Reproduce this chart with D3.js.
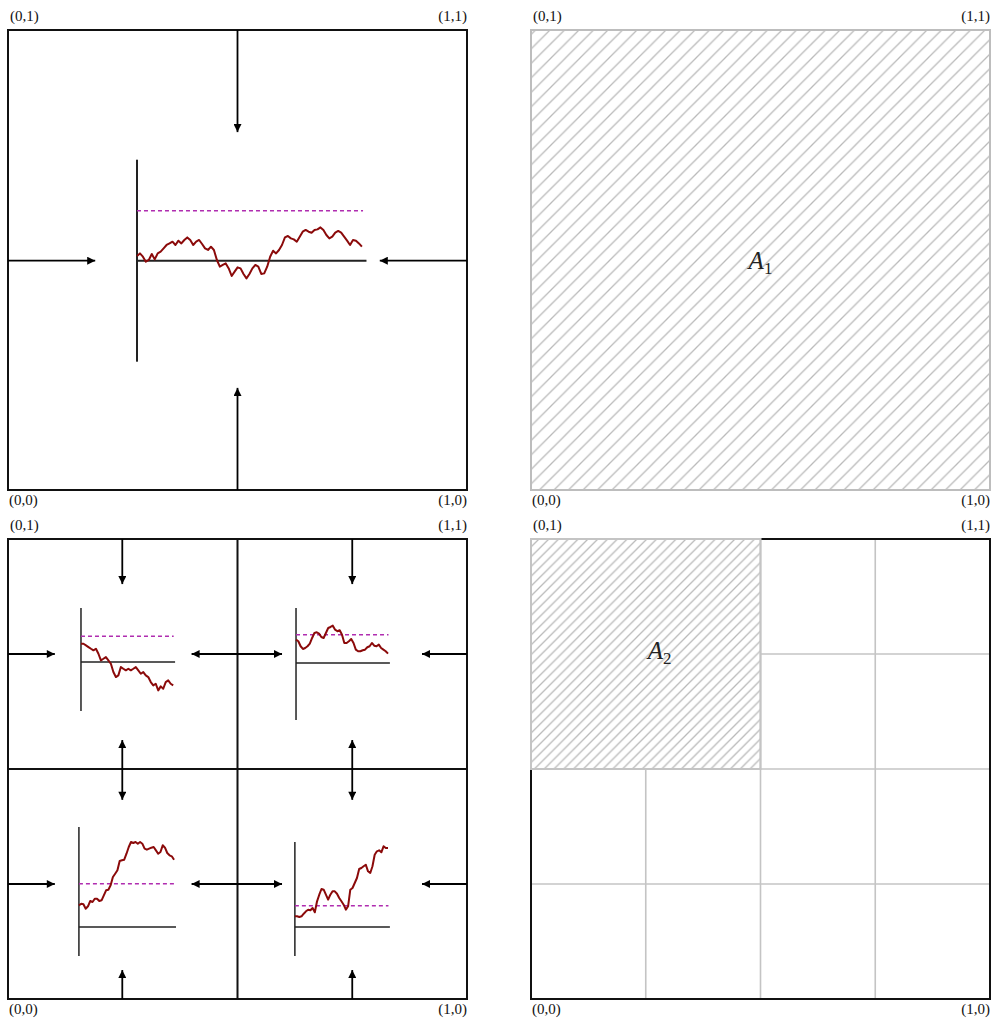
<!DOCTYPE html>
<html>
<head>
<meta charset="utf-8">
<script src="https://cdn.jsdelivr.net/npm/d3@7"></script>
<style>
  body { margin: 0; background: #fff; }
  svg { display: block; }
  text { font-family: "Liberation Serif", "DejaVu Serif", serif; }
</style>
</head>
<body>
<svg id="chart" width="991" height="1021"></svg>
<script>
// corner labels of every unit square, in order: top-left, top-right, bottom-left, bottom-right
const cornerLabels = ["(0,1)", "(1,1)", "(0,0)", "(1,0)"];
const areaNames = ["A", "A"];
const areaSubs = ["1", "2"];

// random walks (height above the small x axis)
const walkMain = [4.7, 7.3, 4, -1, 0.7, 6.7, 1.3, 7.3, 9, 12.3, 15.7, 17.3, 19, 15.7, 20, 17.3, 20.7, 23.3, 20.7, 15.7,
  19, 20.7, 16.7, 12.3, 10.7, 14, 10.7, 0.7, -6, -4.3, -2.7, -7.7, -15.3, -11, -6.7, -7.7, -13.3, -17.7, -13.3, -7.7,
  -4.3, -6, -13.3, -12.7, -6, 4, 10, 7.3, 10.7, 15.7, 23.3, 24.7, 22.3, 21.3, 19, 24, 29, 30.7, 29, 28,
  30.7, 31.3, 33.3, 30.7, 25.7, 22.3, 24, 28, 29.7, 28, 24, 20, 15.7, 20.7, 20, 17.3, 14];
const walkTL = [18.3, 18.3, 16.7, 15, 13.3, 11.7, 13.3, 8.3, 1.7, 3.3, 5, 1.7, -1.7, -10, -15, -13.3, -5, -6.7, -8.3, -6.7,
  -8.3, -6.7, -5, -8.3, -11.7, -10, -13.3, -15, -20, -23.3, -21.7, -28.3, -24.3, -26.7, -20, -18.3, -21.7, -23.3];
const walkTR = [23.3, 21.7, 16.7, 14, 15, 16.7, 19.3, 25, 30, 30.7, 29.3, 26, 25, 30, 35, 36, 37.3, 33.3, 31.7, 32.7,
  28.3, 20, 20, 21.7, 24, 20, 13.3, 11.7, 11.7, 12.7, 13.3, 15.7, 16.7, 20, 17.3, 16.7, 18.3, 15, 13.3, 11.7, 9.3];
const walkBL = [21.7, 23.3, 22.7, 18.3, 20.7, 26, 25, 28.3, 28.3, 26, 26.7, 31.7, 36.7, 37.3, 41.7, 50, 53.3, 56.7, 66, 66.7,
  67.3, 73.3, 80, 85, 84, 85, 83.3, 85, 83.3, 78.3, 77.3, 78.3, 79.3, 80, 76.7, 73.3, 75, 81.7, 79.3, 74, 71.7, 70.7, 67.3];
const walkBR = [10.7, 10.7, 10, 10.7, 13.3, 15.7, 17.3, 16.7, 19, 14.7, 25.7, 32.3, 38, 37.3, 32.3, 27.3, 32.3, 35.7, 35.7, 33.3,
  29, 25.7, 22.3, 17.3, 20.7, 37.3, 39, 44, 49, 58, 59, 60.7, 62.3, 55.7, 54, 60.7, 72.3, 75.7, 76.7, 74.7, 80.7, 79, 79];

// dashed reference level of each walk
const levels = [50, 25.7, 28.3, 43.3, 21.3];
// extent of each small y axis
const yExtents = [[-101, 101], [-49, 54], [-57, 55], [-29, 100], [-29, 85]];

const svg = d3.select("#chart");

// the four unit squares
const panels = [
  { x0: 8, y0: 30 }, { x0: 531, y0: 30 }, { x0: 8, y0: 539 }, { x0: 531, y0: 539 }
].map(p => ({
  x: d3.scaleLinear().domain([0, 1]).range([p.x0, p.x0 + 459]),
  y: d3.scaleLinear().domain([0, 1]).range([p.y0 + 460, p.y0])
}));

// hatch patterns
const defs = svg.append("defs");
function hatch(id, w) {
  defs.append("pattern")
    .attr("id", id)
    .attr("patternUnits", "userSpaceOnUse")
    .attr("width", w).attr("height", w)
    .append("path")
    .attr("d", `M-1,1 l2,-2 M0,${w} l${w},${-w} M${w - 1},${w + 1} l2,-2`)
    .attr("stroke", "#bababa").attr("stroke-width", 1.3);
}
hatch("h1", 14.5);
hatch("h2", 9.8);

// arrow head marker
defs.append("marker")
  .attr("id", "head")
  .attr("viewBox", "0 -5 10 10")
  .attr("refX", 10).attr("refY", 0)
  .attr("markerUnits", "userSpaceOnUse")
  .attr("markerWidth", 9).attr("markerHeight", 8)
  .attr("orient", "auto-start-reverse")
  .append("path").attr("d", "M0,-5L10,0L0,5Z").attr("fill", "#000");

// corner labels
panels.forEach(p => {
  const [x0, x1] = p.x.range();
  const [yb, yt] = p.y.range();
  const pos = [[x0 + 2, yt - 9, "start"], [x1, yt - 9, "end"], [x0 + 1, yb + 15, "start"], [x1, yb + 15, "end"]];
  cornerLabels.forEach((t, i) => {
    svg.append("text").attr("x", pos[i][0]).attr("y", pos[i][1])
      .attr("text-anchor", pos[i][2]).attr("font-size", 15).attr("fill", "#111").text(t);
  });
});

function rect(p, a, b, c, d) {
  return { x: p.x(a), y: p.y(d), width: p.x(c) - p.x(a), height: p.y(b) - p.y(d) };
}

function arrow(p, x1, y1, x2, y2, both) {
  svg.append("line")
    .attr("x1", p.x(x1)).attr("y1", p.y(y1)).attr("x2", p.x(x2)).attr("y2", p.y(y2))
    .attr("stroke", "#000").attr("stroke-width", 1.8)
    .attr("marker-end", "url(#head)")
    .attr("marker-start", both ? "url(#head)" : null);
}

// small chart: axes, dashed level and walk
function miniChart(p, cell, left, right, axisY, walk, level, ext, lw) {
  const cx = d3.scaleLinear().domain([0, 1]).range([cell.x(left), cell.x(right)]);
  const y0 = cell.y(axisY);
  const vy = d3.scaleLinear().domain([0, 1]).range([y0, y0 - 1]);
  const tx = d3.scaleLinear().domain([0, walk.length - 1]).range([cx(0), cx(0.98)]);
  const g = svg.append("g");
  g.append("line").attr("x1", cx(0)).attr("x2", cx(0)).attr("y1", vy(ext[0])).attr("y2", vy(ext[1]))
    .attr("stroke", "#222").attr("stroke-width", lw);
  g.append("line").attr("x1", cx(0)).attr("x2", cx(1)).attr("y1", y0).attr("y2", y0)
    .attr("stroke", "#222").attr("stroke-width", lw);
  g.append("line").attr("x1", cx(0)).attr("x2", cx(0.985)).attr("y1", vy(level)).attr("y2", vy(level))
    .attr("stroke", "#b02db0").attr("stroke-width", 1.5).attr("stroke-dasharray", "4,3");
  g.append("path").datum(walk)
    .attr("d", d3.line().x((d, i) => tx(i)).y(d => vy(d)))
    .attr("fill", "none").attr("stroke", "#8b0a0a").attr("stroke-width", 2)
    .attr("stroke-linejoin", "round");
}

// ---- panel 1: one square, arrows in from all sides
const p1 = panels[0];
svg.append("rect").attr("x", p1.x(0)).attr("y", p1.y(1)).attr("width", 459).attr("height", 460)
  .attr("fill", "none").attr("stroke", "#111").attr("stroke-width", 2);
miniChart(p1, p1, 0.281, 0.781, 0.4985, walkMain, levels[0], yExtents[0], 2);
arrow(p1, 0, 0.4985, 0.19, 0.4985);
arrow(p1, 1, 0.4985, 0.81, 0.4985);
arrow(p1, 0.5, 1, 0.5, 0.778);
arrow(p1, 0.5, 0, 0.5, 0.222);

// ---- panel 2: hatched area A1
const p2 = panels[1];
svg.append("rect").attr("x", p2.x(0)).attr("y", p2.y(1)).attr("width", 459).attr("height", 460)
  .attr("fill", "url(#h1)").attr("stroke", "#bdbdbd").attr("stroke-width", 2);

function areaLabel(p, x, y, i, size) {
  const t = svg.append("text").attr("x", p.x(x)).attr("y", p.y(y)).attr("text-anchor", "middle")
    .attr("fill", "#222").attr("font-size", size);
  t.append("tspan").attr("font-style", "italic").text(areaNames[i]);
  t.append("tspan").attr("font-size", size * 0.68).attr("dy", 5).text(areaSubs[i]);
}
areaLabel(p2, 0.5, 0.48, 0, 25);

// ---- panel 3: square split in four, one walk per cell
const p3 = panels[2];
const cells = [[0, 0.5], [0.5, 0.5], [0, 0], [0.5, 0]].map(([a, b]) => ({
  x: d3.scaleLinear().domain([0, 1]).range([p3.x(a), p3.x(a + 0.5)]),
  y: d3.scaleLinear().domain([0, 1]).range([p3.y(b), p3.y(b + 0.5)])
}));
const miniLayout = [
  [0.318, 0.728, 0.465], [0.255, 0.664, 0.461], [0.309, 0.732, 0.313], [0.25, 0.664, 0.313]
];
const subWalks = [walkTL, walkTR, walkBL, walkBR];
cells.forEach((c, i) => {
  miniChart(p3, c, miniLayout[i][0], miniLayout[i][1], miniLayout[i][2], subWalks[i], levels[i + 1], yExtents[i + 1], 1.5);
});
svg.append("line").attr("x1", p3.x(0.5)).attr("x2", p3.x(0.5)).attr("y1", p3.y(0)).attr("y2", p3.y(1))
  .attr("stroke", "#111").attr("stroke-width", 2);
svg.append("line").attr("x1", p3.x(0)).attr("x2", p3.x(1)).attr("y1", p3.y(0.5)).attr("y2", p3.y(0.5))
  .attr("stroke", "#111").attr("stroke-width", 2);
svg.append("rect").attr("x", p3.x(0)).attr("y", p3.y(1)).attr("width", 459).attr("height", 460)
  .attr("fill", "none").attr("stroke", "#111").attr("stroke-width", 2);
[0.75, 0.25].forEach(yy => {
  arrow(p3, 0, yy, 0.102, yy);
  arrow(p3, 1, yy, 0.902, yy);
  arrow(p3, 0.4, yy, 0.597, yy, true);
});
[0.249, 0.75].forEach(xx => {
  arrow(p3, xx, 1, xx, 0.902);
  arrow(p3, xx, 0.563, xx, 0.433, true);
  arrow(p3, xx, 0, xx, 0.063);
});

// ---- panel 4: grid of quarter cells, hatched area A2
const p4 = panels[3];
const gridLines = [
  [0.25, 0, 0.25, 0.5], [0.5, 0, 0.5, 1], [0.75, 0, 0.75, 1],
  [0.5, 0.75, 1, 0.75], [0, 0.5, 1, 0.5], [0, 0.25, 1, 0.25]
];
gridLines.forEach(([a, b, c, d]) => {
  svg.append("line").attr("x1", p4.x(a)).attr("y1", p4.y(b)).attr("x2", p4.x(c)).attr("y2", p4.y(d))
    .attr("stroke", "#c4c4c4").attr("stroke-width", 1.6);
});
svg.append("rect").attr("x", p4.x(0)).attr("y", p4.y(1)).attr("width", 459).attr("height", 460)
  .attr("fill", "none").attr("stroke", "#111").attr("stroke-width", 2);
const r = rect(p4, 0, 0.5, 0.5, 1);
svg.append("rect").attr("x", r.x).attr("y", r.y).attr("width", r.width).attr("height", r.height)
  .attr("fill", "url(#h2)").attr("stroke", "#c4c4c4").attr("stroke-width", 2);
areaLabel(p4, 0.28, 0.74, 1, 25);
</script>
</body>
</html>
